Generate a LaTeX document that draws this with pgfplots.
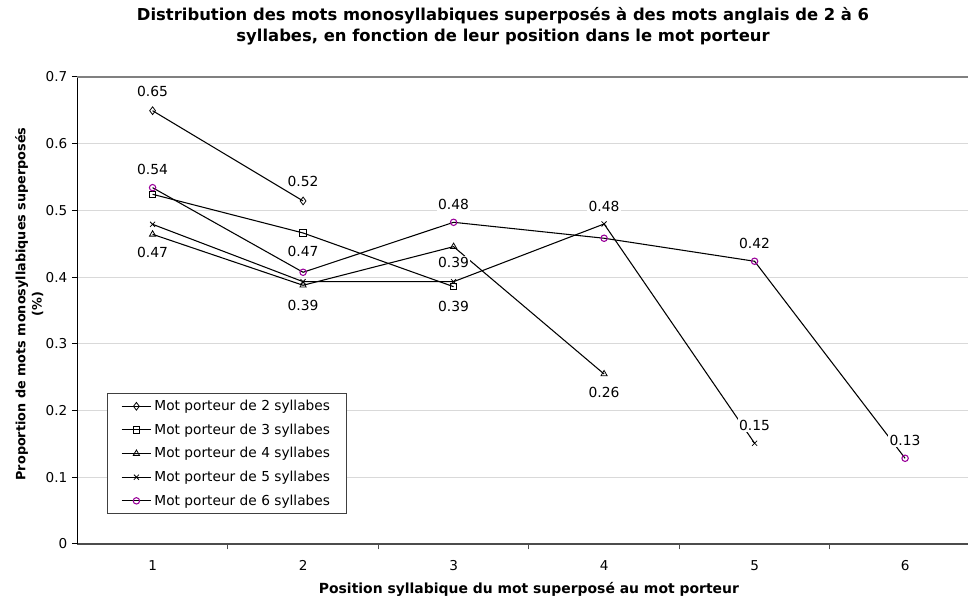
\documentclass[border=0pt]{standalone}
\usepackage{fontspec}
\setmainfont{DejaVu Sans}
\usepackage{pgfplots}
\pgfplotsset{compat=1.18}
\definecolor{purp}{RGB}{153,0,153}
\definecolor{gridc}{RGB}{217,217,217}
\begin{document}
\begin{tikzpicture}
\useasboundingbox (0,0) rectangle (726pt,447pt);
\begin{axis}[
  at={(58pt,39pt)}, anchor=south west,
  scale only axis, width=668pt, height=350.25pt,
  xmin=0.5, xmax=6.418, ymin=0, ymax=0.7,
  axis x line*=bottom, axis y line*=left,
  x axis line style={draw=black!70, line width=1.1pt},
  y axis line style={draw=black, line width=0.75pt},
  xtick={1,2,3,4,5,6}, xticklabels={1,2,3,4,5,6},
  minor xtick={1.5,2.5,3.5,4.5,5.5},
  xtick style={draw=none},
  minor x tick style={draw=black!70, line width=0.75pt},
  minor tick length=4pt,
  ytick={0,0.1,0.2,0.3,0.4,0.5,0.6,0.7},
  yticklabels={0,0.1,0.2,0.3,0.4,0.5,0.6,0.7},
  major tick length=4pt, tick align=outside,
  ytick style={draw=black, line width=0.75pt},
  ymajorgrids, grid style={gridc, line width=0.6pt},
  tick label style={font=\fontsize{10.2}{12}\selectfont},
  xticklabel style={yshift=-5pt},
  /pgf/number format/assume math mode=true,
  title={Distribution des mots monosyllabiques superposés à des mots anglais de 2 à 6\\syllabes, en fonction de leur position dans le mot porteur},
  title style={at={(axis description cs:0.478,1.092)}, anchor=center, yshift=0pt, align=center, font=\bfseries\fontsize{12.3}{15.75}\selectfont},
  xlabel={Position syllabique du mot superposé au mot porteur},
  xlabel style={at={(axis description cs:0.507,-0.105)}, anchor=base, yshift=0pt, font=\bfseries\fontsize{10.45}{12}\selectfont},
  ylabel={Proportion de mots monosyllabiques superposés\\(\%)},
  ylabel style={at={(axis description cs:-0.0539,0.514)}, anchor=center, align=center, rotate=0, font=\bfseries\fontsize{9.6}{12.2}\selectfont},
  legend style={at={(axis description cs:0.0337,0.3233)}, anchor=north west, draw=black!75, line width=0.6pt, fill=white, font=\fontsize{10.3}{12}\selectfont, row sep=4.4pt, inner xsep=10pt, inner ysep=3pt},
  legend cell align=left,
  legend image code/.code={\draw[mark repeat=2,mark phase=2] plot coordinates {(0.12cm,0cm) (0.51cm,0cm) (0.9cm,0cm)};},
  every axis plot/.append style={line width=0.8pt, black, mark options={solid, fill=white, line width=0.6pt}},
  clip=false,
]
\addplot[mark=diamond, mark size=2.9pt] coordinates {(1,0.6495) (2,0.5142)};
\addlegendentry{Mot porteur de 2 syllabes}
\addplot[mark=square, mark size=2.4pt] coordinates {(1,0.5242) (2,0.4662) (3,0.3857)};
\addlegendentry{Mot porteur de 3 syllabes}
\addplot[mark=triangle, mark size=2.7pt] coordinates {(1,0.4642) (2,0.3878) (3,0.4457) (4,0.2548)};
\addlegendentry{Mot porteur de 4 syllabes}
\addplot[mark=x, mark size=2.7pt] coordinates {(1,0.4792) (2,0.3932) (3,0.3932) (4,0.4797) (5,0.1510)};
\addlegendentry{Mot porteur de 5 syllabes}
\addplot[mark=o, mark size=2.4pt, mark options={draw=purp, fill=white}] coordinates {(1,0.5341) (2,0.4073) (3,0.4822) (4,0.4583) (5,0.4238) (6,0.1285)};
\addlegendentry{Mot porteur de 6 syllabes}
\draw[black!50, line width=0.9pt] (rel axis cs:0,1) -- (rel axis cs:1,1);
\begin{scope}[every node/.style={fill=white, inner sep=1pt, font=\fontsize{10.4}{12}\selectfont}]
\node at (axis cs:1,0.678) {0.65};
\node at (axis cs:1,0.562) {0.54};
\node at (axis cs:1,0.4367) {0.47};
\node at (axis cs:2,0.5431) {0.52};
\node at (axis cs:2,0.4382) {0.47};
\node at (axis cs:2,0.3583) {0.39};
\node at (axis cs:3,0.5097) {0.48};
\node at (axis cs:3,0.4217) {0.39};
\node at (axis cs:3,0.3568) {0.39};
\node at (axis cs:4,0.5067) {0.48};
\node at (axis cs:4,0.2268) {0.26};
\node at (axis cs:5,0.4508) {0.42};
\node at (axis cs:5,0.1784) {0.15};
\node at (axis cs:6,0.1559) {0.13};
\end{scope}
\end{axis}
\end{tikzpicture}
\end{document}
